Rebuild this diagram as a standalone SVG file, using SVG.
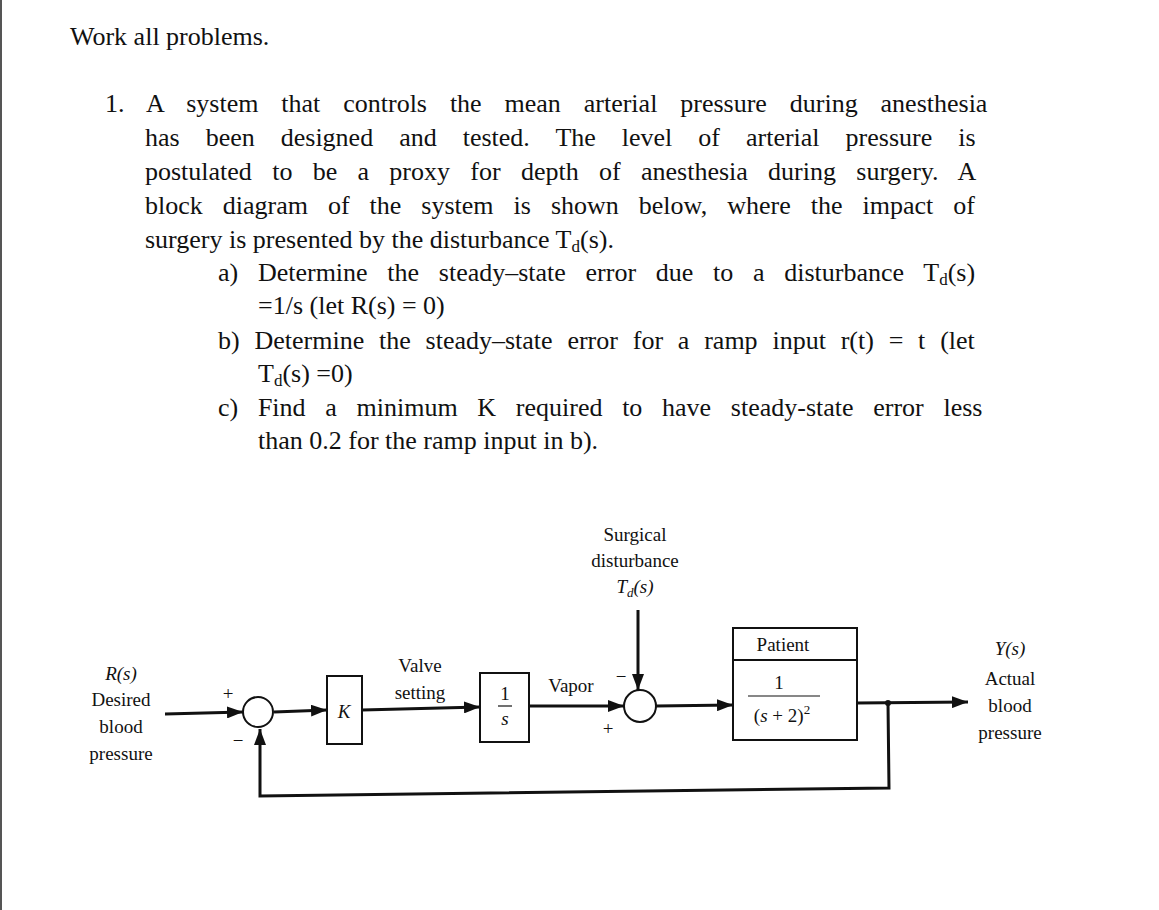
<svg xmlns="http://www.w3.org/2000/svg" width="1159" height="910" viewBox="0 0 1159 910">
<style>
.t{font-family:"Liberation Serif",serif;font-size:26px;fill:#111}
.d{font-family:"Liberation Serif",serif;font-size:19px;fill:#111}
.di{font-family:"Liberation Serif",serif;font-size:19px;font-style:italic;fill:#111}
.ln{stroke:#111;stroke-width:3;fill:none}
.bx{stroke:#111;stroke-width:2;fill:#fff}
</style>
<defs>
<marker id="ab" markerWidth="16" markerHeight="12" refX="16" refY="6" orient="auto" markerUnits="userSpaceOnUse"><path d="M0,0L16,6L0,12z" fill="#111"/></marker></defs>
<rect width="1159" height="910" fill="#fff"/>
<line x1="1" y1="0" x2="1" y2="910" stroke="#555" stroke-width="2"/>
<g id="text">
<text class="t" x="70" y="45">Work all problems.</text>
<text class="t" x="105" y="112" word-spacing="16.4">1. A system that controls the mean arterial pressure during anesthesia</text>
<text class="t" x="145" y="146" word-spacing="19.5">has been designed and tested. The level of arterial pressure is</text>
<text class="t" x="145" y="180" word-spacing="13.8">postulated to be a proxy for depth of anesthesia during surgery. A</text>
<text class="t" x="145" y="214" word-spacing="13.5">block diagram of the system is shown below, where the impact of</text>
<text class="t" x="145" y="248">surgery is presented by the disturbance T<tspan font-size="17" dy="4">d</tspan><tspan dy="-4">(s).</tspan></text>
<text class="t" x="218" y="281" word-spacing="13.2">a) Determine the steady–state error due to a disturbance T<tspan font-size="17" dy="4">d</tspan><tspan dy="-4">(s)</tspan></text>
<text class="t" x="258" y="314">=1/s (let R(s) = 0)</text>
<text class="t" x="218" y="349" word-spacing="8.3">b) Determine the steady–state error for a ramp input r(t) = t (let</text>
<text class="t" x="258" y="382">T<tspan font-size="17" dy="4">d</tspan><tspan dy="-4">(s) =0)</tspan></text>
<text class="t" x="218" y="416" word-spacing="13.2">c) Find a minimum K required to have steady-state error less</text>
<text class="t" x="258" y="449">than 0.2 for the ramp input in b).</text>
</g>
<g id="connectors">
<line class="ln" x1="165" y1="714" x2="243" y2="712" marker-end="url(#ab)"/>
<line class="ln" x1="274" y1="712" x2="327" y2="710" marker-end="url(#ab)"/>
<line class="ln" x1="362" y1="710" x2="480" y2="707" marker-end="url(#ab)"/>
<line class="ln" x1="529" y1="706" x2="624" y2="706" marker-end="url(#ab)"/>
<line class="ln" x1="638" y1="610" x2="638" y2="690" marker-end="url(#ab)"/>
<line class="ln" x1="656" y1="706" x2="733" y2="705" marker-end="url(#ab)"/>
<line class="ln" x1="857" y1="703" x2="968" y2="702" marker-end="url(#ab)"/>
<polyline class="ln" points="888,703 889,788 260,796 260,729" marker-end="url(#ab)"/>
<circle cx="888" cy="703" r="3" fill="#111"/>
</g>
<g id="sum1"><circle class="bx" cx="258" cy="712" r="15"/></g>
<g id="sum2"><circle class="bx" cx="640" cy="706" r="16"/></g>
<g id="K"><rect class="bx" x="327" y="676" width="35" height="68"/><text class="di" x="344" y="718" text-anchor="middle">K</text></g>
<g id="integ"><rect class="bx" x="480" y="673" width="49" height="69"/>
<text class="d" x="505" y="700" text-anchor="middle">1</text><line x1="498" y1="706" x2="512" y2="706" stroke="#111" stroke-width="1.2"/><text class="di" x="505" y="725" text-anchor="middle">s</text></g>
<g id="patient"><rect class="bx" x="733" y="628" width="124" height="112"/><line x1="733" y1="660" x2="857" y2="660" stroke="#111" stroke-width="2"/>
<text class="d" x="783" y="651" text-anchor="middle">Patient</text>
<text class="d" x="779" y="689" text-anchor="middle">1</text><line x1="748" y1="696" x2="820" y2="696" stroke="#111" stroke-width="1.2"/>
<text class="d" x="782" y="722" text-anchor="middle">(<tspan font-style="italic">s</tspan> + 2)<tspan font-size="13" dy="-8">2</tspan></text></g>
<g id="labels">
<text class="di" x="121" y="680" text-anchor="middle">R(s)</text>
<text class="d" x="121" y="706" text-anchor="middle">Desired</text>
<text class="d" x="121" y="733" text-anchor="middle">blood</text>
<text class="d" x="121" y="760" text-anchor="middle">pressure</text>
<text class="d" x="228" y="700" text-anchor="middle">+</text>
<text class="d" x="238" y="747" text-anchor="middle">−</text>
<text class="d" x="420" y="672" text-anchor="middle">Valve</text>
<text class="d" x="420" y="699" text-anchor="middle">setting</text>
<text class="d" x="571" y="692" text-anchor="middle">Vapor</text>
<text class="d" x="621" y="683" text-anchor="middle">−</text>
<text class="d" x="608" y="735" text-anchor="middle">+</text>
<text class="d" x="635" y="541" text-anchor="middle">Surgical</text>
<text class="d" x="635" y="567" text-anchor="middle">disturbance</text>
<text class="di" x="635" y="593" text-anchor="middle">T<tspan font-size="13" dy="4">d</tspan><tspan dy="-4">(s)</tspan></text>
<text class="di" x="1010" y="655" text-anchor="middle">Y(s)</text>
<text class="d" x="1010" y="685" text-anchor="middle">Actual</text>
<text class="d" x="1010" y="712" text-anchor="middle">blood</text>
<text class="d" x="1010" y="739" text-anchor="middle">pressure</text>
</g>
</svg>
